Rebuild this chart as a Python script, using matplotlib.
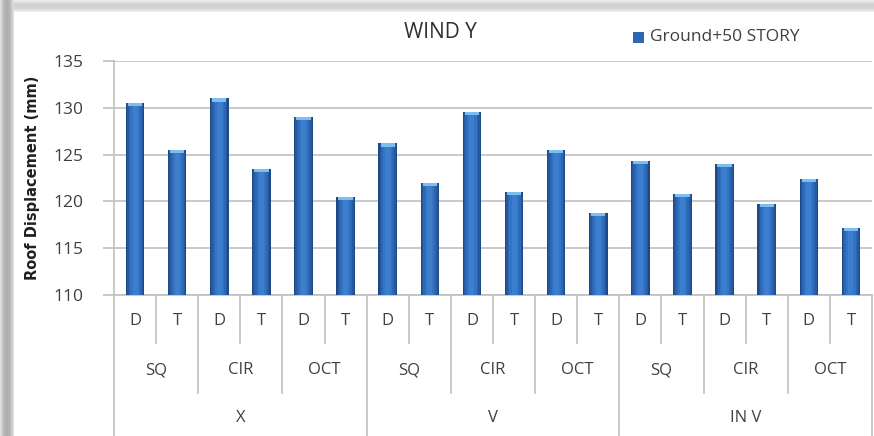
import matplotlib.pyplot as plt
from matplotlib.patches import Rectangle
from matplotlib.transforms import blended_transform_factory
import numpy as np

# wind Y roof displacement, grouped as bracing / shape / D-T
bracing = ["X", "V", "IN V"]
shapes = ["SQ", "CIR", "OCT"]
kinds = ["D", "T"]
displacement = [130.5, 125.5, 131.0, 123.5, 129.0, 120.5,
                126.2, 122.0, 129.6, 121.0, 125.5, 118.8,
                124.3, 120.8, 124.0, 119.7, 122.4, 117.2]
series_name = "Ground+50 STORY"

plt.rcParams['font.family'] = ['Open Sans', 'DejaVu Sans']
txt = "#404040"
grid = "#c0c0c0"

fig = plt.figure(figsize=(8.74, 4.36), dpi=100)

# drop shadow on the left and top of the chart frame
for i in range(14):
    a = 0.10 + 0.22 * np.sin(np.pi * (i + 0.5) / 14)
    fig.patches.append(Rectangle((i / 874, 0), 1 / 874, 1, transform=fig.transFigure,
                                 color="k", alpha=a, lw=0, zorder=0))
for i in range(12):
    a = 0.06 + 0.12 * np.sin(np.pi * (i + 0.5) / 12)
    fig.patches.append(Rectangle((14 / 874, 1 - (i + 1) / 436), 1, 1 / 436,
                                 transform=fig.transFigure, color="k", alpha=a, lw=0, zorder=0))

ax = fig.add_axes([114 / 874, 141 / 436, 758 / 874, 234 / 436])
x = np.arange(len(displacement))

# cylinder-looking bars: stacked bars narrowing toward a lighter centre
shades = ["#1d4a86", "#25589c", "#2d66b2", "#3574c3", "#3d7fcf"]
widths = [0.44, 0.38, 0.31, 0.22, 0.12]
for w, c in zip(widths, shades):
    ax.bar(x, np.array(displacement) - 110, width=w, bottom=110, color=c, lw=0, zorder=3)
# light caps on top
ax.bar(x, 0.35, width=0.34, bottom=np.array(displacement) - 0.35, color="#7fbdf0", lw=0, zorder=4)

ax.set_ylim(110, 135)
ax.set_xlim(-0.5, len(displacement) - 0.5)
ax.set_yticks([110, 115, 120, 125, 130, 135])
ax.yaxis.grid(True, color=grid, lw=1.2)
ax.set_axisbelow(True)
for s in ["top", "right", "bottom"]:
    ax.spines[s].set_visible(False)
ax.spines["left"].set_color(grid)
ax.spines["left"].set_linewidth(1.2)
ax.tick_params(axis="y", colors=grid, labelcolor=txt, labelsize=12.5, length=8, width=1.2, pad=14)
ax.set_xticks([])
ax.axhline(110, color=grid, lw=1.2, clip_on=False, zorder=2)
ax.set_ylabel("Roof Displacement (mm)", fontsize=10.5, fontweight="bold", color="#202020",
              family=['Liberation Sans Narrow', 'DejaVu Sans'], labelpad=10)

# three-level category axis drawn below the plot
tr = blended_transform_factory(ax.transData, ax.transAxes)
px = 1 / 234.0
for i, v in enumerate(displacement):
    ax.text(i, -26 * px, kinds[i % 2], transform=tr, ha="center", va="center",
            fontsize=12, color=txt)
for g in range(len(displacement) // 2):
    ax.text(2 * g + 0.5, -75 * px, shapes[g % 3], transform=tr, ha="center", va="center",
            fontsize=12, color=txt)
for b, name in enumerate(bracing):
    ax.text(6 * b + 2.5, -123 * px, name, transform=tr, ha="center", va="center",
            fontsize=12, color=txt)
for i in range(len(displacement) + 1):
    edge = i - 0.5
    if i % 6 == 0:
        depth = -150
    elif i % 2 == 0:
        depth = -98
    else:
        depth = -48
    ax.plot([edge, edge], [0, depth * px], transform=tr, color=grid, lw=1.2, clip_on=False)

fig.text(440 / 874, 1 - 33 / 436, "WIND Y", ha="center", va="center", fontsize=15, color="#303030")
fig.patches.append(Rectangle((633 / 874, 1 - 43 / 436), 11 / 874, 11 / 436, transform=fig.transFigure,
                             color="#2d66b2", lw=0))
fig.text(650 / 874, 1 - 37 / 436, series_name, ha="left", va="center", fontsize=12.5, color=txt)

fig.savefig("out.png", dpi=100)
